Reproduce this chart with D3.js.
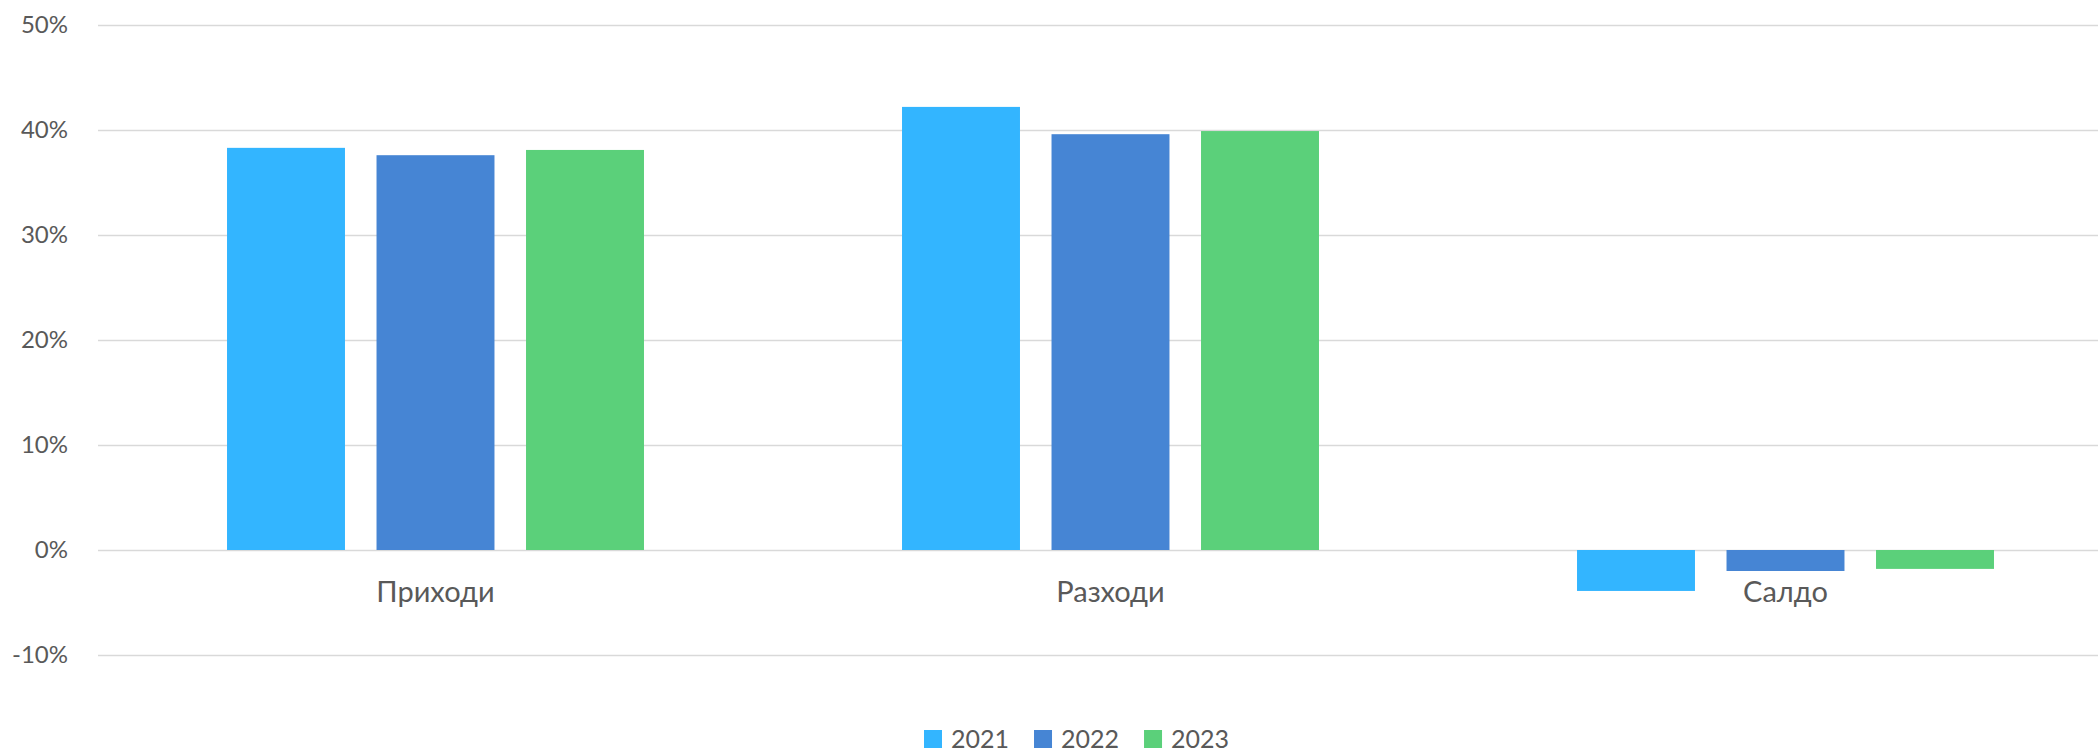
<!DOCTYPE html>
<html>
<head>
<meta charset="utf-8">
<script src="https://cdn.jsdelivr.net/npm/d3@7"></script>
<style>
    body { margin: 0; background: #fff; }
    svg { display: block; font-family: "Lato", "Open Sans", sans-serif; }
</style>
</head>
<body>
<svg id="chart"></svg>
<script>
// data
const categories = ["Приходи", "Разходи", "Салдо"];
const years = ["2021", "2022", "2023"];
const values2021 = [38.3, 42.2, -3.9];
const values2022 = [37.6, 39.6, -2.0];
const values2023 = [38.1, 39.9, -1.8];
const yTicks = [-10, 0, 10, 20, 30, 40, 50];
const colors = ["#33b5ff", "#4685d4", "#5bd07a"];

const width = 2098, height = 754;
const svg = d3.select("#chart").attr("width", width).attr("height", height);

const series = [values2021, values2022, values2023];
const rows = [];
categories.forEach((c, i) => {
    years.forEach((yr, j) => {
        rows.push({ category: c, year: yr, value: series[j][i] });
    });
});

// plot area extends slightly past the right edge, as in the reference
const x = d3.scaleBand().domain(categories).range([98, 2123]).paddingInner(0).paddingOuter(0);
const xInner = d3.scaleBand().domain(years).range([0, x.bandwidth()]).paddingInner(0.211).paddingOuter(0.863);
const y = d3.scaleLinear().domain([-10, 50]).range([655, 25]);

// gridlines
svg.append("g")
    .selectAll("line")
    .data(yTicks)
    .enter()
    .append("line")
    .attr("x1", 98)
    .attr("x2", width)
    .attr("y1", d => Math.round(y(d)) + 0.5)
    .attr("y2", d => Math.round(y(d)) + 0.5)
    .attr("stroke", "#d9d9d9")
    .attr("stroke-width", 1.5);

// y labels
svg.append("g")
    .selectAll("text")
    .data(yTicks)
    .enter()
    .append("text")
    .attr("x", 68)
    .attr("y", d => y(d) + 8)
    .attr("text-anchor", "end")
    .attr("fill", "#595959")
    .style("font-size", "24px")
    .text(d => d + "%");

// bars
svg.append("g")
    .selectAll("rect")
    .data(rows)
    .enter()
    .append("rect")
    .attr("x", d => x(d.category) + xInner(d.year))
    .attr("width", xInner.bandwidth())
    .attr("y", d => y(Math.max(0, d.value)))
    .attr("height", d => Math.abs(y(d.value) - y(0)))
    .attr("fill", d => colors[years.indexOf(d.year)]);

// category labels
svg.append("g")
    .selectAll("text")
    .data(categories)
    .enter()
    .append("text")
    .attr("x", d => x(d) + x.bandwidth() / 2)
    .attr("y", 602)
    .attr("text-anchor", "middle")
    .attr("fill", "#595959")
    .style("font-size", "29px")
    .text(d => d);

// legend
const legend = svg.append("g");
const items = legend.selectAll("g")
    .data(years)
    .enter()
    .append("g");
items.append("rect")
    .attr("width", 18)
    .attr("height", 18)
    .attr("y", 730)
    .attr("fill", (d, i) => colors[i]);
items.append("text")
    .attr("x", 27)
    .attr("y", 748)
    .attr("fill", "#595959")
    .style("font-size", "25px")
    .text(d => d);

let offset = 0;
const positions = [];
items.each(function () {
    positions.push(offset);
    const w = d3.select(this).select("text").node().getComputedTextLength();
    offset += 27 + w + 25;
});
const start = 924;
items.attr("transform", (d, i) => `translate(${start + positions[i]},0)`);
</script>
</body>
</html>
